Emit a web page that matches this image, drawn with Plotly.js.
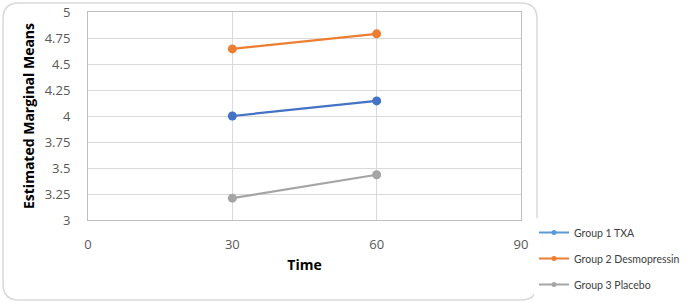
<!DOCTYPE html>
<html><head><meta charset="utf-8">
<script src="https://cdn.plot.ly/plotly-3.0.1.min.js"></script>
<style>body{margin:0;background:#fff}#c{width:690px;height:305px}</style>
</head><body><div id="c"></div>
<script>
const time = [30, 60];
const seriesNames = ["Group 1 TXA", "Group 2 Desmopressin", "Group 3 Placebo"];
const txa = [4.00, 4.145];
const desmo = [4.645, 4.79];
const placebo = [3.21, 3.435];
const colors = ["#4472C4", "#ED7D31", "#A5A5A5"];
const legendColors = ["#5B9BD5", "#ED7D31", "#A5A5A5"];
const xTicks = [0, 30, 60, 90];
const yTicks = [3, 3.25, 3.5, 3.75, 4, 4.25, 4.5, 4.75, 5];

const W = 690, H = 305, ml = 88, mr = 169, mt = 12, mb = 85;
const pw = W - ml - mr, ph = H - mt - mb;
const fx = p => (p - ml) / pw;
const fy = p => (H - mb - p) / ph;

function roundRect(x0, y0, x1, y1, r) {
  const P = (x, y) => fx(x) + "," + fy(y);
  return "M" + P(x0 + r, y0) + " L" + P(x1 - r, y0) + " Q" + P(x1, y0) + " " + P(x1, y0 + r) +
    " L" + P(x1, y1 - r) + " Q" + P(x1, y1) + " " + P(x1 - r, y1) +
    " L" + P(x0 + r, y1) + " Q" + P(x0, y1) + " " + P(x0, y1 - r) +
    " L" + P(x0, y0 + r) + " Q" + P(x0, y0) + " " + P(x0 + r, y0) + " Z";
}

const ys = [txa, desmo, placebo];
const data = ys.map((y, i) => ({
  x: time, y: y, name: seriesNames[i], type: "scatter", mode: "lines+markers",
  showlegend: false,
  line: {color: colors[i], width: 2.25},
  marker: {color: colors[i], size: 9}
}));
// legend entries (Excel-style small markers)
ys.forEach((y, i) => data.push({
  x: [null], y: [null], name: seriesNames[i], type: "scatter", mode: "lines+markers",
  legendgroup: "g" + i, showlegend: true,
  line: {color: legendColors[i], width: 2},
  marker: {color: legendColors[i], size: 5}
}));

const font = "'Open Sans', 'Liberation Sans', sans-serif";
const layout = {
  width: W, height: H,
  margin: {l: ml, r: mr, t: mt, b: mb, autoexpand: false},
  paper_bgcolor: "#fff", plot_bgcolor: "#fff",
  font: {family: font, color: "#595959", size: 12},
  showlegend: true,
  legend: {xref: "container", yref: "container", x: 534 / W, y: 1 - 218 / H,
    xanchor: "left", yanchor: "top",
    traceorder: "grouped", tracegroupgap: 7, itemwidth: 30,
    font: {size: 10.5, color: "#404040", family: "Lato, sans-serif"}},
  xaxis: {range: [0, 90], tickvals: xTicks, ticktext: xTicks.map(String),
    showgrid: true, gridcolor: "#d9d9d9", gridwidth: 1,
    showline: true, linecolor: "#bfbfbf", linewidth: 1, mirror: true, zeroline: false,
    ticks: "", ticklabelstandoff: 12, tickfont: {size: 13, color: "#595959"},
    title: {text: "<b>Time</b>", font: {size: 14, color: "#000"}, standoff: 8}},
  yaxis: {range: [3, 5], tickvals: yTicks, ticktext: yTicks.map(String),
    showgrid: true, gridcolor: "#d9d9d9", gridwidth: 1,
    showline: true, linecolor: "#bfbfbf", linewidth: 1, mirror: true, zeroline: false,
    ticks: "", ticklabelstandoff: 14, tickfont: {size: 13, color: "#595959"},
    title: {text: "<b>Estimated Marginal Means</b>", font: {size: 14, color: "#000"}, standoff: 6}},
  shapes: [{type: "path", xref: "paper", yref: "paper", layer: "below",
    path: roundRect(3, 3, 537, 300, 16),
    line: {color: "#d9d9d9", width: 1.5}, fillcolor: "rgba(0,0,0,0)"}]
};
Plotly.newPlot("c", data, layout, {displayModeBar: false, staticPlot: true});
</script></body></html>
